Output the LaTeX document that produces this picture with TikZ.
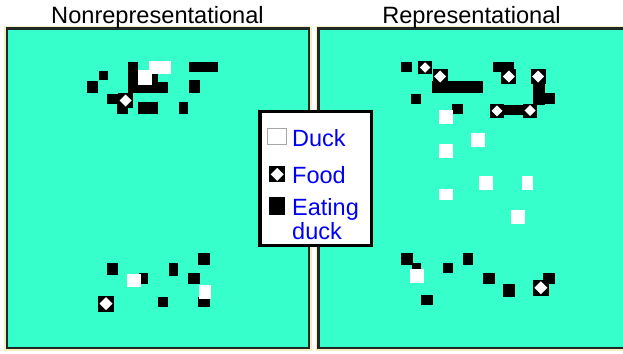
\documentclass[tikz,border=0pt]{standalone}
\usepackage{fontspec}
\setmainfont{Liberation Sans}
\definecolor{teal1}{RGB}{54,255,204}
\definecolor{halo}{RGB}{245,238,190}
\definecolor{bord}{RGB}{30,40,38}
\definecolor{lblue}{RGB}{0,0,245}
\tikzset{
  panel/.style={fill=teal1, draw=bord, line width=2.5pt},
  panelhalo/.style={draw=halo, line width=1.5pt},
  eat/.style={fill=black},
  duckw/.style={fill=white},
  legendbox/.style={fill=white, draw=black, line width=3.3pt},
  ttl/.style={font=\fontsize{23.6}{27}\selectfont, text=black, inner sep=0pt},
  lgd/.style={font=\fontsize{23.5}{27}\selectfont, text=lblue, inner sep=0pt},
}
\newcommand{\foodcell}[3]{%
  \fill[eat] ({#1-#3/2},{#2-#3/2}) rectangle ({#1+#3/2},{#2+#3/2});
  \fill[white] ({#1},{#2-#3/2+1.5}) -- ({#1+#3/2-1.5},{#2}) -- ({#1},{#2+#3/2-1.5}) -- ({#1-#3/2+1.5},{#2}) -- cycle;}
\begin{document}
\begin{tikzpicture}[x=1pt,y=-1pt]
\useasboundingbox (0,0) rectangle (623,353);
\fill[white] (0,0) rectangle (623,353);
% panels
\draw[panelhalo] (5.2,26.7) rectangle (311.2,350);
\filldraw[panel] (7.2,28.7) rectangle (309.2,348);
\draw[panelhalo] (316.7,26.7) rectangle (630,350);
\filldraw[panel] (318.7,28.7) rectangle (628,348);
% titles
\node[ttl, anchor=base] (t1) at (157.5,23.3) {Nonrepresentational};
\node[ttl, anchor=base] (t2) at (471.5,23.3) {Representational};
% ---- left top cluster
\fill[eat] (86.7,81) rectangle (98.3,93.3);
\fill[eat] (99,70.7) rectangle (108.3,80);
\fill[eat] (128.3,61.7) rectangle (138.3,93.3);
\fill[eat] (128,81.7) rectangle (168.3,93.3);
\fill[eat] (147,71) rectangle (158,83);
\fill[eat] (189,62.3) rectangle (218,71.7);
\fill[eat] (189,80) rectangle (200,93.3);
\fill[eat] (106.7,94.3) rectangle (118.3,104);
\fill[eat] (116.7,103) rectangle (128.3,114);
\fill[eat] (138,102) rectangle (158,114);
\fill[eat] (179,102) rectangle (188,114);
\fill[duckw] (138.3,70) rectangle (151.7,85);
\fill[duckw] (149,61) rectangle (171,74);
\foodcell{125.5}{100.5}{15}
% ---- left bottom cluster
\fill[eat] (106.7,263.3) rectangle (118.3,275.3);
\fill[eat] (139,273.3) rectangle (148.3,284);
\fill[duckw] (126.7,274) rectangle (141,287.3);
\fill[eat] (168.7,263.3) rectangle (178.3,275.7);
\fill[eat] (198.3,252.7) rectangle (210,265);
\fill[eat] (188.3,273.3) rectangle (200,284);
\fill[eat] (198.3,296.7) rectangle (210,307.3);
\fill[duckw] (199.3,285) rectangle (211,299);
\fill[eat] (158.3,296.7) rectangle (168.3,307.3);
\foodcell{106}{303.7}{16}
% ---- right top cluster
\fill[eat] (401,61.7) rectangle (412.3,71.7);
\fill[eat] (431.7,80.7) rectangle (482.7,93.3);
\fill[eat] (411,94) rectangle (420.7,104);
\fill[eat] (451.7,104.3) rectangle (462.7,114);
\fill[eat] (493.3,61.7) rectangle (514.3,71.7);
\fill[eat] (533,83) rectangle (545,105);
\fill[eat] (533,93) rectangle (555,104);
\fill[eat] (504,105) rectangle (530,115);
\foodcell{425}{67.5}{13.5}
\foodcell{440}{76.5}{15}
\foodcell{508.8}{76.5}{15}
\foodcell{538}{76.5}{15}
\foodcell{497}{110.8}{14}
\foodcell{530}{110.5}{14}
% right whites
\fill[duckw] (439,110) rectangle (453,124);
\fill[duckw] (471,133) rectangle (485,147);
\fill[duckw] (439,144) rectangle (453,158);
\fill[duckw] (479,176) rectangle (493,190);
\fill[duckw] (522,176) rectangle (533.3,190);
\fill[duckw] (439,189) rectangle (453,200);
\fill[duckw] (511,210) rectangle (525,224);
% ---- right bottom cluster
\fill[eat] (401,252.7) rectangle (412.7,265);
\fill[eat] (411.7,263.3) rectangle (421,272.7);
\fill[duckw] (410,269) rectangle (424,282.7);
\fill[eat] (443.3,263.3) rectangle (452.7,273.3);
\fill[eat] (462.7,252.7) rectangle (472.7,265);
\fill[eat] (483.3,273.3) rectangle (495,284);
\fill[eat] (503.3,284.3) rectangle (515,296.7);
\fill[eat] (421,295) rectangle (432.7,305);
\fill[eat] (543.3,273.3) rectangle (555,284);
\foodcell{540.8}{287.8}{16}
% ---- legend
\filldraw[legendbox] (260,111.3) rectangle (371.7,245.7);
\filldraw[fill=white, draw=gray!70, line width=1pt] (267.8,128.8) rectangle (286.2,144.5);
\foodcell{277.2}{174.3}{16}
\fill[eat] (269.3,196.7) rectangle (285,215);
\node[lgd, anchor=base west] (l1) at (292,146.7) {Duck};
\node[lgd, anchor=base west] (l2) at (292,183.3) {Food};
\node[lgd, anchor=base west] (l3) at (292,215) {Eating};
\node[lgd, anchor=base west] (l4) at (292,239.3) {duck};
\end{tikzpicture}
\end{document}
